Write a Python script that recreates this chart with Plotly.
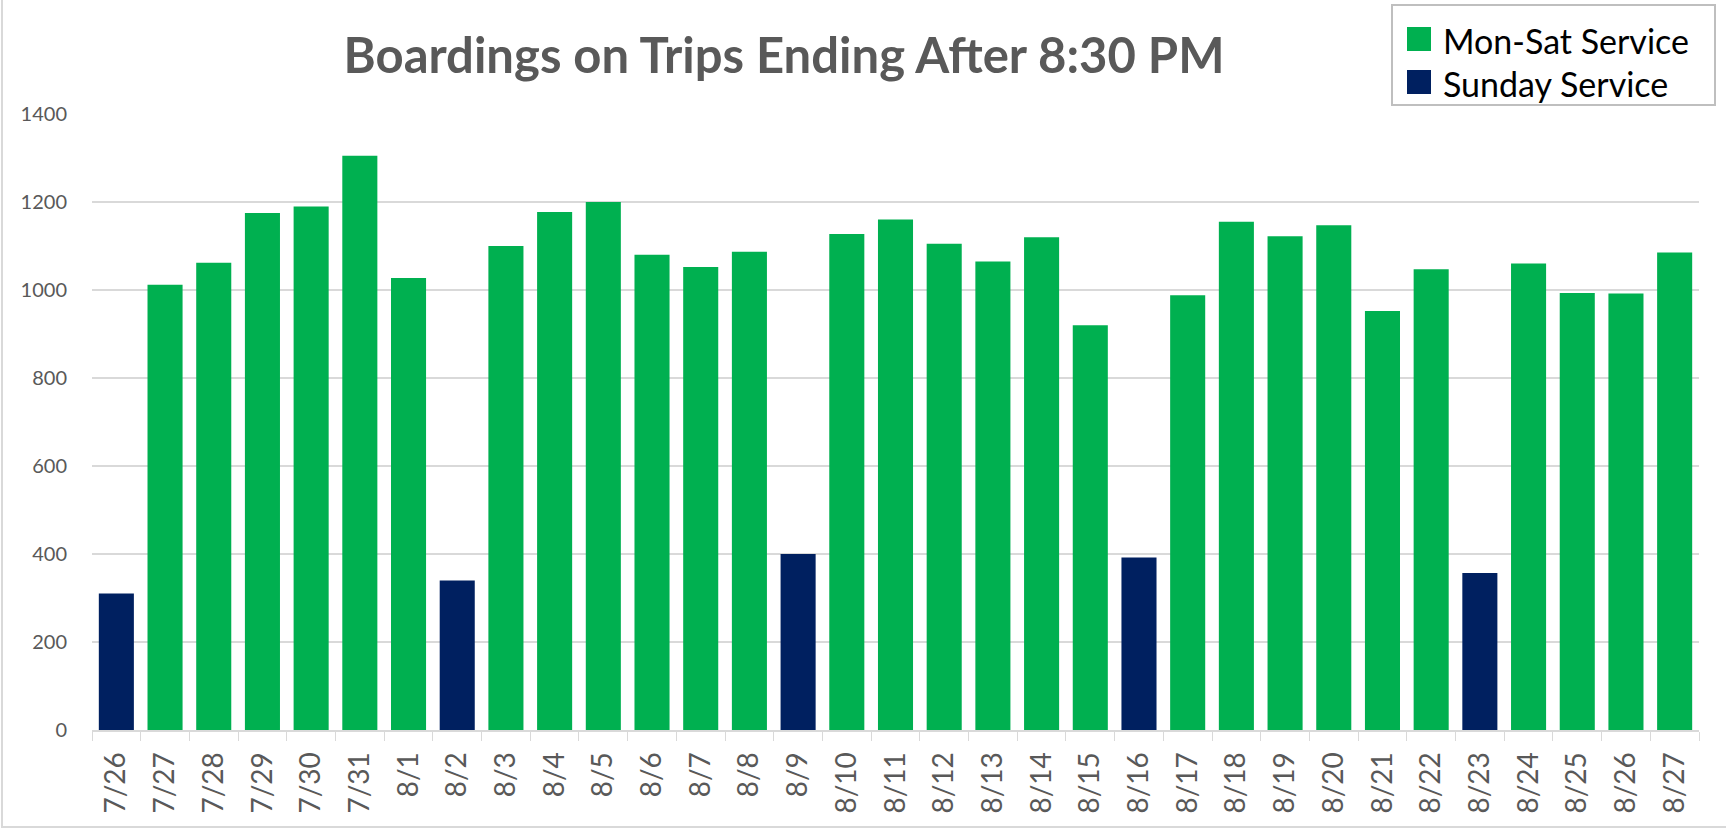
import plotly.graph_objects as go

dates = ["7/26", "7/27", "7/28", "7/29", "7/30", "7/31", "8/1", "8/2", "8/3", "8/4",
         "8/5", "8/6", "8/7", "8/8", "8/9", "8/10", "8/11", "8/12", "8/13", "8/14",
         "8/15", "8/16", "8/17", "8/18", "8/19", "8/20", "8/21", "8/22", "8/23", "8/24",
         "8/25", "8/26", "8/27"]
boardings = [310, 1012, 1062, 1175, 1190, 1305, 1027, 340, 1100, 1177,
             1200, 1080, 1052, 1087, 400, 1127, 1160, 1105, 1065, 1120,
             920, 392, 988, 1155, 1122, 1147, 952, 1047, 357, 1060,
             993, 992, 1085]
sunday_dates = ["7/26", "8/2", "8/9", "8/16", "8/23"]

series_names = ["Mon-Sat Service", "Sunday Service"]
series_colors = ["#00B050", "#002060"]
title_text = "Boardings on Trips Ending After 8:30 PM"

W, H = 1726, 830
L, R, T, B = 92, 27, 114, 100
PW, PH = W - L - R, H - T - B


def px(x):
    return (x - L) / PW


def py(y):
    return (H - B - y) / PH


wk_x = [d for d in dates if d not in sunday_dates]
wk_y = [v for d, v in zip(dates, boardings) if d not in sunday_dates]
su_x = [d for d in dates if d in sunday_dates]
su_y = [v for d, v in zip(dates, boardings) if d in sunday_dates]

FONT = "Lato, 'Open Sans', sans-serif"
GRAY = "#595959"

fig = go.Figure()
fig.add_trace(go.Bar(x=wk_x, y=wk_y, name=series_names[0], marker_color=series_colors[0],
                     marker_line_width=0, showlegend=False))
fig.add_trace(go.Bar(x=su_x, y=su_y, name=series_names[1], marker_color=series_colors[1],
                     marker_line_width=0, showlegend=False))

shapes = []
annotations = []
# chart border
shapes.append(dict(type="rect", xref="paper", yref="paper",
                   x0=px(2), x1=px(W + 5), y0=py(827), y1=py(-5),
                   line=dict(color="#D9D9D9", width=2), fillcolor="rgba(0,0,0,0)", layer="below"))
# legend box
shapes.append(dict(type="rect", xref="paper", yref="paper",
                   x0=px(1392), x1=px(1715), y0=py(105), y1=py(5),
                   line=dict(color="#BFBFBF", width=2), fillcolor="white", layer="above"))
leg_y = [39, 82]
for name, color, yc in zip(series_names, series_colors, leg_y):
    shapes.append(dict(type="rect", xref="paper", yref="paper",
                       x0=px(1407), x1=px(1431), y0=py(yc + 12), y1=py(yc - 12),
                       line=dict(width=0), fillcolor=color, layer="above"))
    annotations.append(dict(text=name, xref="paper", yref="paper", x=px(1441), y=py(yc + 1),
                            xanchor="left", yanchor="middle", showarrow=False,
                            font=dict(family=FONT, size=34, color="#000000")))

fig.update_layout(
    width=W, height=H,
    margin=dict(l=L, r=R, t=T, b=B),
    paper_bgcolor="white", plot_bgcolor="white",
    barmode="overlay", bargap=0.28,
    title=dict(text="<b>" + title_text + "</b>", x=784 / W, xanchor="center",
               y=1 - 56 / H, yanchor="middle",
               font=dict(family=FONT, size=49, color=GRAY)),
    xaxis=dict(type="category", categoryorder="array", categoryarray=dates,
               tickangle=-90, tickfont=dict(family=FONT, size=28, color=GRAY),
               ticks="outside", tickson="boundaries", ticklen=9, tickcolor="#D9D9D9",
               ticklabelstandoff=9,
               showline=True, linecolor="#D9D9D9", linewidth=2, showgrid=False),
    yaxis=dict(range=[0, 1400], dtick=200, tickfont=dict(family=FONT, size=20, color=GRAY),
               showgrid=True, gridcolor="#D9D9D9", gridwidth=1.5, zeroline=False,
               showline=False, ticks="", ticklabelstandoff=24),
    shapes=shapes, annotations=annotations,
    showlegend=False,
)

fig.write_html("out.html", config={"displayModeBar": False},
               post_script="document.body.style.margin='0';")
